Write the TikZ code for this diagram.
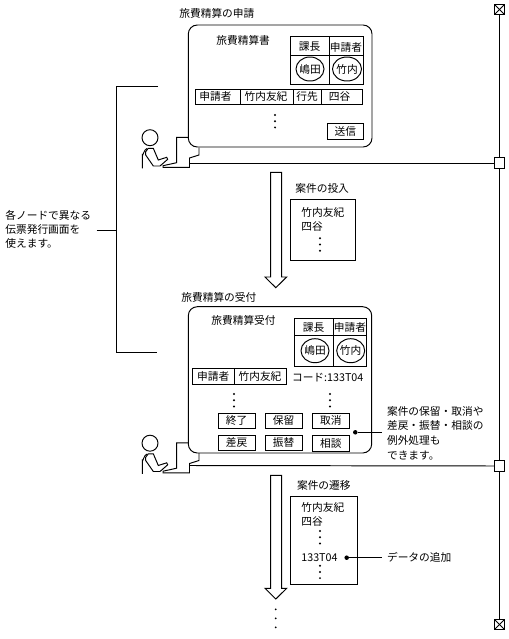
\documentclass[tikz,border=0pt]{standalone}
\usepackage{fontspec}
\setmainfont{Noto Sans CJK JP}
\tikzset{
  line/.style={line width=0.55pt},
  txt/.style={inner sep=0pt, font=\fontsize{6.1pt}{7pt}\selectfont},
  ltxt/.style={txt, anchor=west},
  joint/.style={draw, line width=0.55pt, fill=white, inner sep=0pt, minimum size=0.21cm},
  endbox/.style={joint, path picture={
    \draw[line width=0.55pt] (path picture bounding box.north west) -- (path picture bounding box.south east);
    \draw[line width=0.55pt] (path picture bounding box.north east) -- (path picture bounding box.south west);}},
  blackdot/.style={circle, fill=black, inner sep=0pt, minimum size=0.09cm},
  win/.style={line, rounded corners=0.18cm}
}
\newcommand{\threedots}[2]{\foreach \dy in {0,1,2} {\fill (#1,#2+6.2*\dy) circle [radius=1.1];}}
\begin{document}
\begin{tikzpicture}[x=0.02cm, y=-0.02cm]
\useasboundingbox (0,0) rectangle (508,639);

% Right hand line and its joints
\node[endbox] (topend) at (499.5,9.5) {};
\node[joint] (joint1) at (499.5,163) {};
\node[joint] (joint2) at (499.5,466) {};
\node[endbox] (botend) at (499.5,624.5) {};
\draw[line] (topend) -- (joint1) -- (joint2) -- (botend);

% Lines from the terminals
\coordinate (term1) at (189,163);
\coordinate (term2) at (189,465.5);
\draw[line] (term1) -- (joint1);
\draw[line] (term2) -- (joint2);

% Person and speech tail
\foreach \dy in {0,305.5} {
\begin{scope}[shift={(0,\dy)}]
\draw[line] (150,137.7) circle [radius=8];
\draw[line] (142.3,168.3) -- (142.3,155) to[out=-90, in=190] (147,148.5);
\draw[line] (145.7,151.7) -- (148.3,148.3) -- (153.3,148.3) -- (158.3,160) -- (166.7,157.3) -- (167.7,159.3)
  -- (160,166) -- (153.3,166) -- (145.7,155) -- cycle;
\draw[line] (188,137.3) -- (176.7,137.3) -- (176.7,162.7) -- (163,165.7) -- (163,167.3) -- (189.5,167.3)
  -- (189.5,158) -- (199,155) -- (199,147.5);
\end{scope}
}

% Windows
\draw[win] (188.3,25) rectangle (372,147);
\draw[win] (188.3,306.7) rectangle (371.7,453);

% First window
\node[txt, anchor=west] (title1) at (179,13) {旅費精算の申請};
\node[ltxt] (form1) at (216,40) {旅費精算書};
\draw[line] (290.7,36.7) rectangle (363,84);
\draw[line] (329.3,36.7) -- (329.3,84);
\draw[line] (290.7,55) -- (363,55);
\node[txt] (chief1) at (309.5,47) {課長};
\node[txt] (appl1) at (346,47) {申請者};
\draw[line] (310,69) ellipse [x radius=14, y radius=12];
\draw[line] (347,69) ellipse [x radius=14.5, y radius=12];
\node[txt] (seala1) at (310,69) {嶋田};
\node[txt] (sealb1) at (347,69) {竹内};
\draw[line] (195.3,89) rectangle (362,104.3);
\draw[line] (240,89) -- (240,104.3);
\draw[line] (293.7,89) -- (293.7,104.3);
\draw[line] (321.3,89) -- (321.3,104.3);
\node[txt] (rowa1) at (215.5,96.7) {申請者};
\node[txt] (rowb1) at (266,96.7) {竹内友紀};
\node[txt] (rowc1) at (307,96.7) {行先};
\node[txt] (rowd1) at (339.5,96.7) {四谷};
\threedots{275}{115}
\node[draw, line width=0.55pt, txt, minimum width=0.72cm, minimum height=0.33cm] (send) at (345.3,131.7) {送信};

% First arrow and slip
\draw[line] (270.7,277) -- (270.7,172.3) -- (281.7,172.3) -- (281.7,277) -- (286.7,277) -- (275.8,287.7) -- (265,277) -- cycle;
\node[ltxt] (slip1) at (295,188) {案件の投入};
\draw[line] (290.7,199.3) rectangle (355.7,260.3);
\node[ltxt] (sliptxta1) at (301,212) {竹内友紀};
\node[ltxt] (sliptxtb1) at (301,226.7) {四谷};
\threedots{320}{238.3}

% Left bracket
\node[ltxt, align=left] (nodenote) at (5,229.5) {各ノードで異なる\\[1pt]伝票発行画面を\\[1pt]使えます。};
\coordinate (stub) at (96.7,230);
\coordinate (brtop) at (158,86.3);
\coordinate (brbot) at (157,352.3);
\draw[line] (brtop) -- (116.5,86.3) -- (116.5,352.3) -- (brbot);
\draw[line] (stub) -- (116.5,230);

% Second window
\node[ltxt] (title2) at (181,297) {旅費精算の受付};
\node[ltxt] (form2) at (211,320.7) {旅費精算受付};
\draw[line] (294.3,318.3) rectangle (366.3,366.3);
\draw[line] (333.7,318.3) -- (333.7,366.3);
\draw[line] (294.3,335.7) -- (366.3,335.7);
\node[txt] (chief2) at (313.5,327.3) {課長};
\node[txt] (appl2) at (350,327.3) {申請者};
\draw[line] (315,350.7) ellipse [x radius=14, y radius=12];
\draw[line] (350.7,350.7) ellipse [x radius=14, y radius=12];
\node[txt] (seala2) at (315,350.7) {嶋田};
\node[txt] (sealb2) at (350.7,350.7) {竹内};
\draw[line] (192.7,368.7) rectangle (286.7,384.3);
\draw[line] (234,368.7) -- (234,384.3);
\node[txt] (rowa2) at (213.3,376.7) {申請者};
\node[txt] (rowb2) at (260,376.7) {竹内友紀};
\node[ltxt] (code) at (291.7,377.7) {コード:133T04};
\threedots{234}{394}
\threedots{330}{394}

% Buttons
\tikzset{btn/.style={draw, line width=0.55pt, txt, minimum width=0.74cm, minimum height=0.305cm}}
\node[btn] (btnend) at (236.7,420.8) {終了};
\node[btn] (btnhold) at (283.7,420.8) {保留};
\node[btn] (btncancel) at (330.8,420.8) {取消};
\node[btn] (btnback) at (236.7,442.8) {差戻};
\node[btn] (btnswap) at (283.7,442.8) {振替};
\node[btn] (btnask) at (330.8,443.5) {相談};

% Note on exceptions
\node[blackdot] (excdot) at (355.3,432.3) {};
\node[ltxt, align=left] (excnote) at (386.7,433) {案件の保留・取消や\\[1.3pt]差戻・振替・相談の\\[1.3pt]例外処理も\\[1.3pt]できます。};
\coordinate (excend) at (382.3,432.3);
\draw[line] (excdot) -- (excend);

% Second arrow and slip
\draw[line] (270.7,588.3) -- (270.7,475.3) -- (281.7,475.3) -- (281.7,588.3) -- (286.7,588.3) -- (275.8,599) -- (265,588.3) -- cycle;
\node[ltxt] (slip2) at (296.7,485.7) {案件の遷移};
\draw[line] (290.7,496.7) rectangle (357.7,584.3);
\node[ltxt] (sliptxta2) at (301,507.3) {竹内友紀};
\node[ltxt] (sliptxtb2) at (301,521.7) {四谷};
\threedots{320}{531}
\node[ltxt] (sliptxtc2) at (301,557.7) {133T04};
\threedots{320}{565.7}
\node[blackdot] (datadot) at (346.7,557.7) {};
\coordinate (dataend) at (382.3,557.7);
\node[ltxt] (datanote) at (386.7,557.7) {データの追加};
\draw[line] (datadot) -- (dataend);

% Continues
\foreach \yy in {609.3,618.3,627.3} {\fill (275.7,\yy) circle [radius=1];}

\end{tikzpicture}
\end{document}
